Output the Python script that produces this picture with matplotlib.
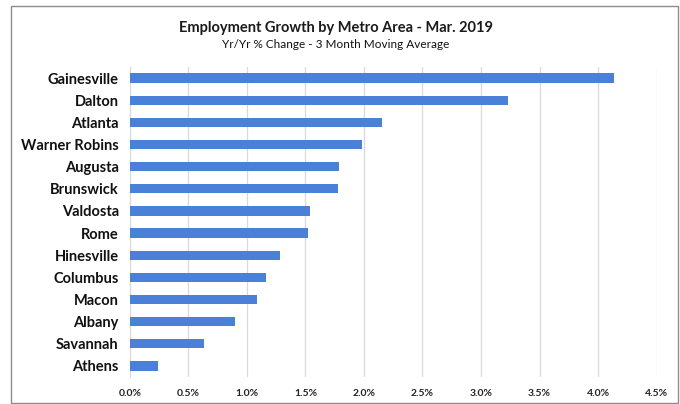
import matplotlib.pyplot as plt
from matplotlib.patches import Rectangle
from matplotlib.ticker import FuncFormatter

metros = ['Gainesville', 'Dalton', 'Atlanta', 'Warner Robins', 'Augusta',
          'Brunswick', 'Valdosta', 'Rome', 'Hinesville', 'Columbus',
          'Macon', 'Albany', 'Savannah', 'Athens']
growth = [4.14, 3.23, 2.15, 1.98, 1.79, 1.78, 1.54, 1.52, 1.285, 1.16,
          1.09, 0.90, 0.63, 0.24]
xticks = [0.0, 0.5, 1.0, 1.5, 2.0, 2.5, 3.0, 3.5, 4.0, 4.5]

plt.rcParams['font.family'] = ['Lato', 'DejaVu Sans']

fig = plt.figure(figsize=(6.8, 4.04), dpi=100)
ax = fig.add_axes([0.191, 0.067, 0.7745, 0.767])

# grey outer frame of the chart
fig.patches.append(Rectangle((11 / 680, 0.003), 667 / 680, 1 - 6 / 404 - 0.003,
                             transform=fig.transFigure, fill=False,
                             edgecolor='#8c8c8c', linewidth=1.0))

ax.barh(range(len(metros)), growth, height=0.42, color='#4a80d8', zorder=3)
ax.set_ylim(len(metros) - 0.5, -0.5)
ax.set_xlim(0, 4.5)
ax.set_xticks(xticks)
ax.xaxis.set_major_formatter(FuncFormatter(lambda v, p: f'{v:.1f}%'))
ax.set_yticks(range(len(metros)))
ax.set_yticklabels(metros, fontsize=10.5, fontweight='bold', color='#111111')
for lbl in ax.get_xticklabels():
    lbl.set_fontsize(7.5)
    lbl.set_fontweight('bold')
    lbl.set_color('#222222')

ax.grid(axis='x', color='#d9d9d9', linewidth=0.9, zorder=0)
for s in ['top', 'right', 'bottom']:
    ax.spines[s].set_visible(False)
ax.spines['left'].set_color('#d9d9d9')
ax.tick_params(axis='x', length=0, pad=9)
ax.tick_params(axis='y', length=0, pad=8)

fig.text(0.494, 1 - 28 / 404, 'Employment Growth by Metro Area - Mar. 2019',
         ha='center', va='center', fontsize=10.5, fontweight='bold', color='#1a1a1a')
fig.text(0.494, 1 - 45 / 404, 'Yr/Yr % Change - 3 Month Moving Average',
         ha='center', va='center', fontsize=8.5, color='#111111')

fig.savefig('out.png', dpi=100)
